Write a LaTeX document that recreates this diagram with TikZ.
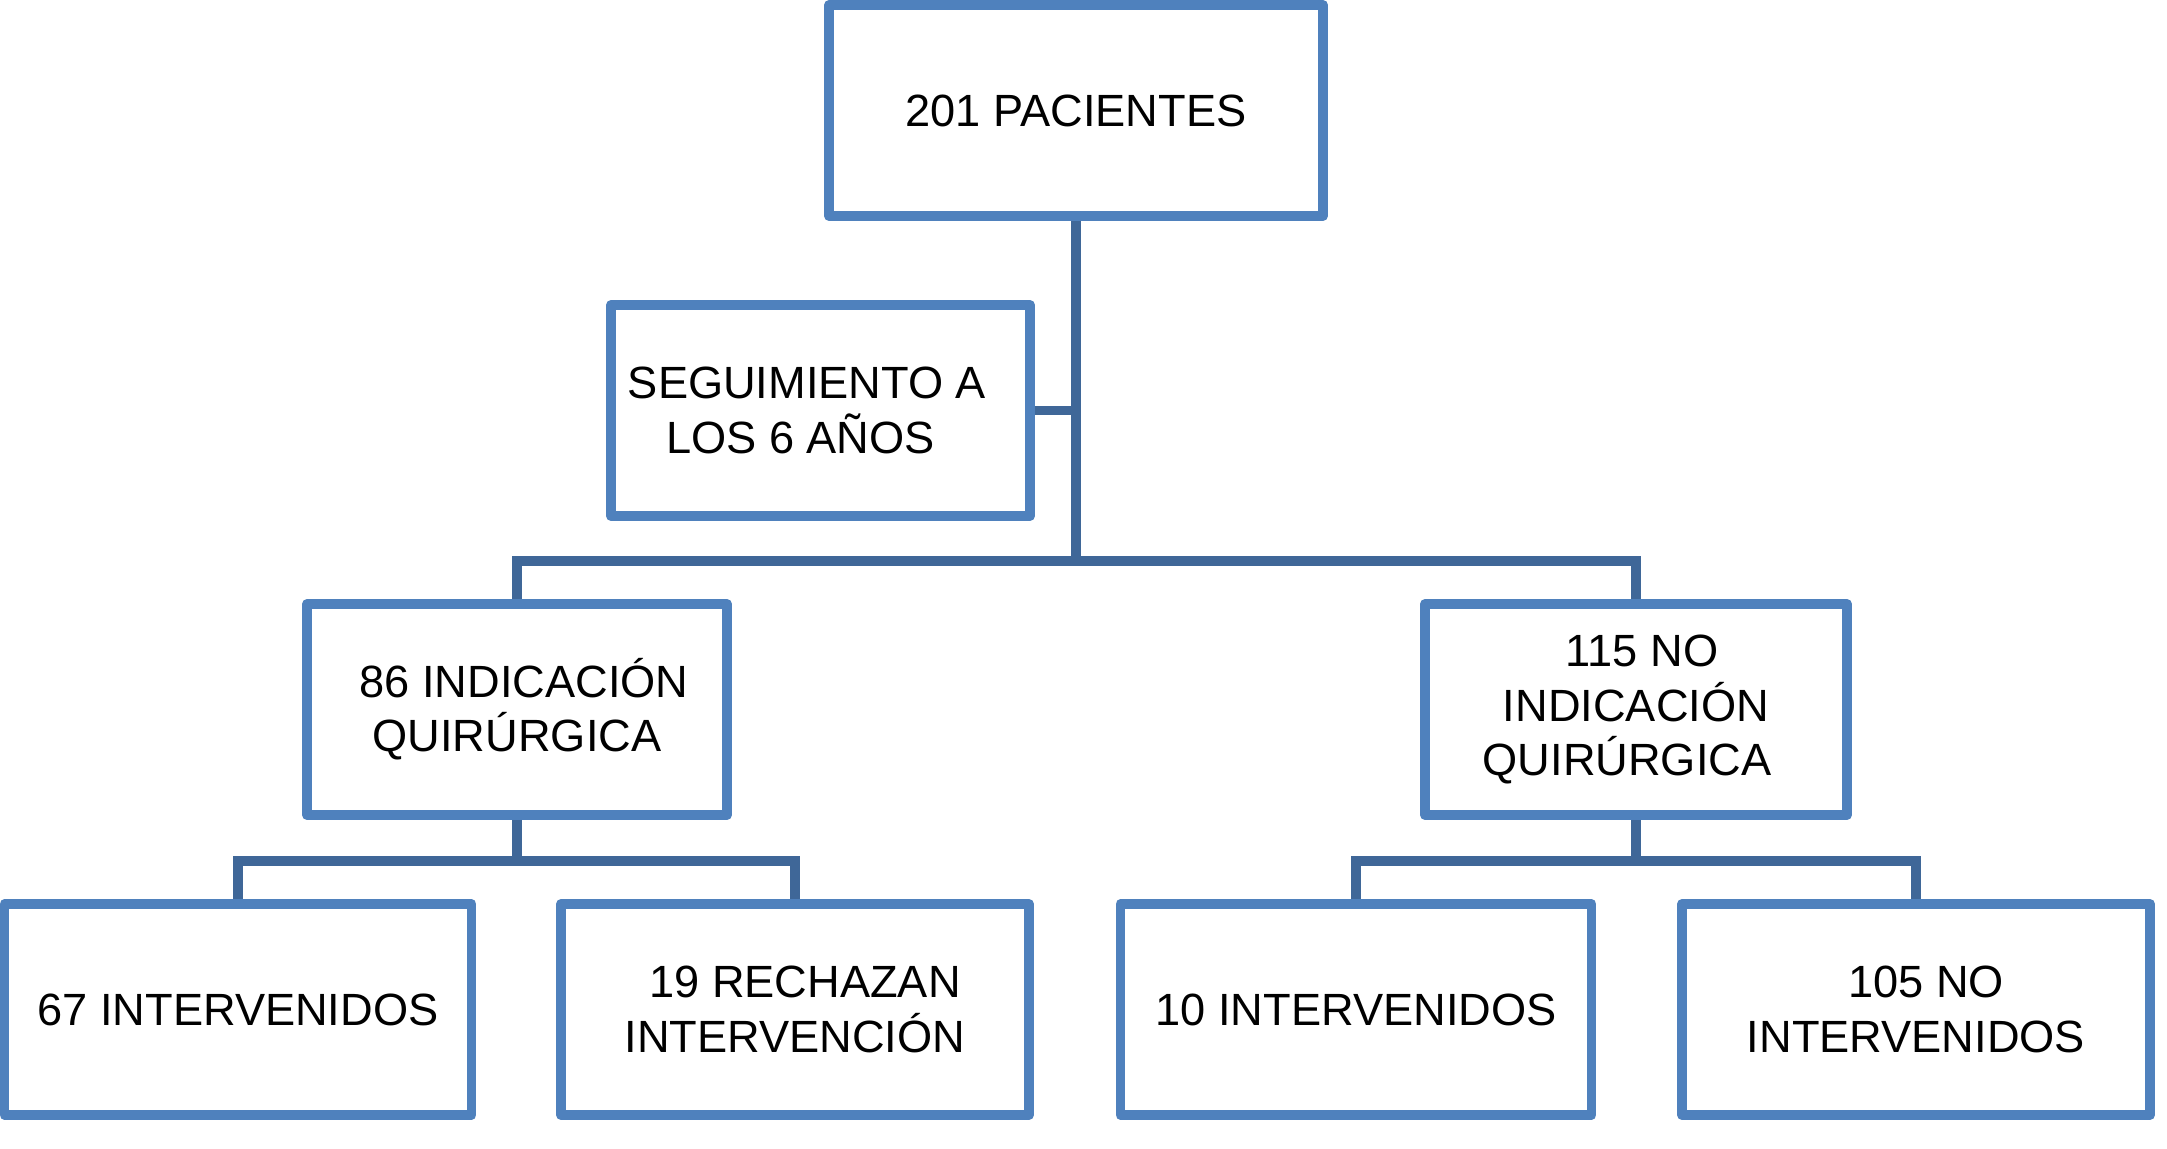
\documentclass[tikz,border=0pt]{standalone}
\usepackage{fontspec}
\setmainfont{Liberation Sans}
\definecolor{boxblue}{HTML}{4F81BD}
\definecolor{connblue}{HTML}{3F6798}
\newcommand\gapx[1]{\hbox to #1{}}
\begin{document}
\begin{tikzpicture}[x=0.01cm,y=-0.01cm,
  box/.style={draw=boxblue, line width=0.095cm, rectangle, fill=white,
    align=center, inner sep=0pt, minimum height=2.11cm,
    font=\fontsize{12.85}{15.4}\selectfont, text=black, line join=round},
  conn/.style={draw=connblue, line width=0.095cm, line join=miter}]
\useasboundingbox (0,0) rectangle (2167,1149);
% boxes
\node[box, minimum width=4.94cm] (top) at (1076,110.5) {201 PACIENTES};
\node[box, minimum width=4.19cm] (seg) at (820.5,410.5) {SEGUIMIENTO A\gapx{0.27cm}\\LOS 6 AÑOS\gapx{0.40cm}};
\node[box, minimum width=4.20cm] (ind) at (517,709.5) {\gapx{0.14cm}86 INDICACIÓN\\QUIRÚRGICA};
\node[box, minimum width=4.22cm] (noind) at (1636,709.5) {\gapx{0.12cm}115 NO\\INDICACIÓN\\QUIRÚRGICA\gapx{0.18cm}};
\node[box, minimum width=4.67cm] (i67) at (238,1009.5) {67 INTERVENIDOS};
\node[box, minimum width=4.68cm] (r19) at (795,1009.5) {\gapx{0.2cm}19 RECHAZAN\\INTERVENCIÓN};
\node[box, minimum width=4.71cm] (i10) at (1356,1009.5) {10 INTERVENIDOS};
\node[box, minimum width=4.68cm] (n105) at (1916,1009.5) {\gapx{0.2cm}105 NO\\INTERVENIDOS};
% junction points
\coordinate (b1) at (1076,561);
\coordinate (b2) at (517,861);
\coordinate (b3) at (1636,861);
% connectors
\draw[conn] (top.south) -- (b1);
\draw[conn] (seg.east) -- (seg.east -| b1);
\draw[conn] (ind.north) |- (b1) -| (noind.north);
\draw[conn] (ind.south) -- (b2);
\draw[conn] (i67.north) |- (b2) -| (r19.north);
\draw[conn] (noind.south) -- (b3);
\draw[conn] (i10.north) |- (b3) -| (n105.north);
\end{tikzpicture}
\end{document}
